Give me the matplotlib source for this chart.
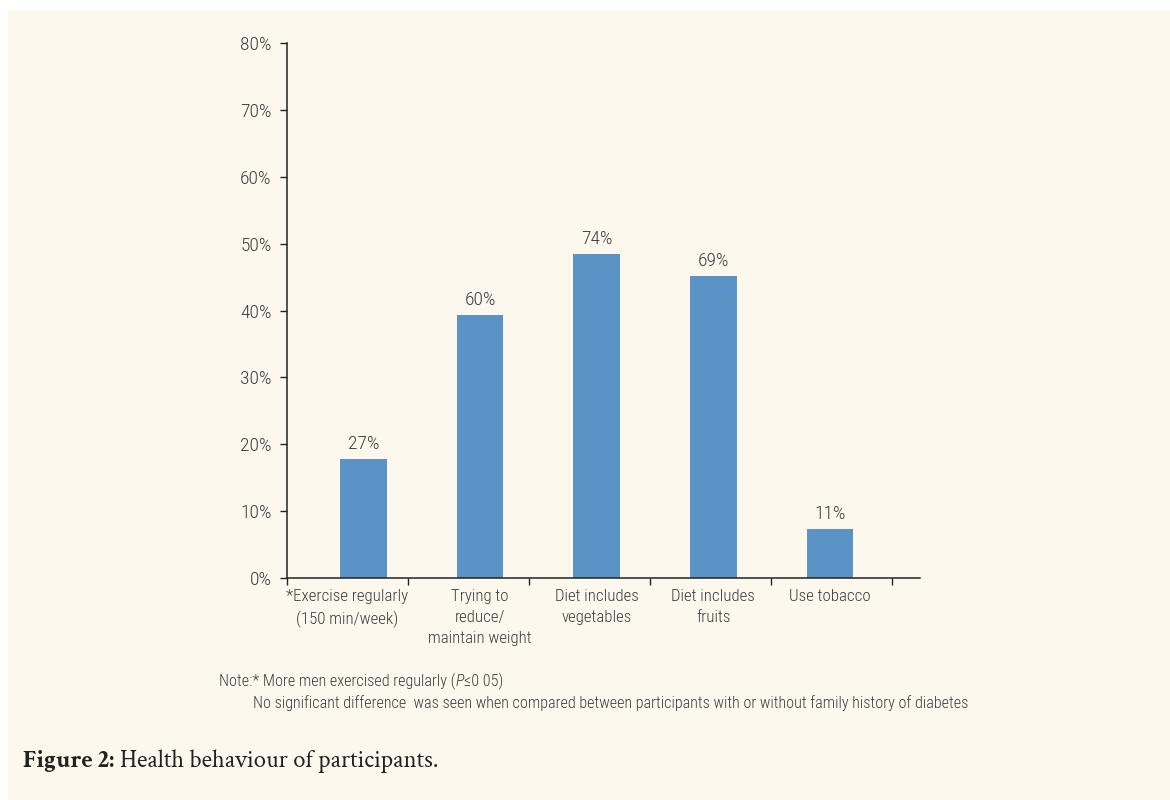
import matplotlib
matplotlib.use("Agg")
import matplotlib.pyplot as plt
import matplotlib.transforms as mtransforms
from matplotlib.patches import Rectangle
from matplotlib.ticker import FuncFormatter

# bar heights as drawn on the axis, and the labels printed above the bars
categories = ["*Exercise regularly\n(150 min/week)", "Trying to\nreduce/\nmaintain weight",
              "Diet includes\nvegetables", "Diet includes\nfruits", "Use tobacco"]
bar_heights = [17.8, 39.3, 48.4, 45.1, 7.3]
bar_labels = ["27%", "60%", "74%", "69%", "11%"]
y_ticks = [0, 10, 20, 30, 40, 50, 60, 70, 80]

BG = "#fcf8ee"
BAR = "#5a93c5"
TXT = "#3c3c3c"
NARROW = ["Roboto Condensed", "PT Sans Narrow", "DejaVu Sans"]
SERIF = ["Crimson Text", "Liberation Serif"]

plt.rcParams["font.weight"] = "light"

fig = plt.figure(figsize=(11.7, 8.0), dpi=100)
fig.patch.set_facecolor("white")
fig.patches.append(Rectangle((8 / 1170, 0), 1, 790 / 800, transform=fig.transFigure,
                             facecolor=BG, edgecolor="none", zorder=-10))

ax = fig.add_axes([287 / 1170, 222 / 800, 633 / 1170, 535 / 800])
ax.set_facecolor("none")

x = list(range(len(categories)))
ax.bar(x, bar_heights, width=0.4, color=BAR, zorder=2)
for xi, h, lab in zip(x, bar_heights, bar_labels):
    ax.text(xi, h + 0.9, lab, ha="center", va="bottom", fontsize=14,
            color=TXT, family=NARROW, weight="light")

# slot boundaries of the category axis (slightly wider than bar spacing)
slot = 121 / 116.6
left = -76.5 / 116.6
ax.set_xlim(left, left + 633 / 116.6)
ax.set_ylim(0, 80)
ax.set_xticks([left + slot * k for k in range(6)], minor=True)
ax.set_xticks(x)
ax.set_xticklabels(categories, fontsize=12.2, color=TXT, family=NARROW,
                   weight="light", linespacing=1.5)
ax.tick_params(axis="x", which="major", length=0, pad=8)
ax.tick_params(axis="x", which="minor", length=5, width=1, color="#222222", direction="out")
first = ax.get_xticklabels()[0]
first.set_transform(first.get_transform() +
                    mtransforms.ScaledTranslation(-16 / 100, 0, fig.dpi_scale_trans))

ax.set_yticks(y_ticks)
ax.yaxis.set_major_formatter(FuncFormatter(lambda v, p: f"{v:.0f}%"))
ax.tick_params(axis="y", length=5, width=1, color="#222222", pad=6, labelsize=14,
               labelcolor=TXT)
for t in ax.get_yticklabels():
    t.set_family(NARROW)
    t.set_weight("light")

for s in ["top", "right"]:
    ax.spines[s].set_visible(False)
for s in ["left", "bottom"]:
    ax.spines[s].set_color("#222222")
    ax.spines[s].set_linewidth(1.1)

NOTE_FS = 11.6
note1 = fig.text(219 / 1170, 1 - 681 / 800, "Note:* More men exercised regularly (",
                 fontsize=NOTE_FS, color=TXT, family=NARROW, weight="light", va="center")
fig.canvas.draw()
r = fig.canvas.get_renderer()
bb = note1.get_window_extent(r)
pt = fig.text(bb.x1 / 1170, 1 - 681 / 800, "P", fontsize=NOTE_FS, color=TXT, family=NARROW,
              weight="light", style="italic", va="center")
bb2 = pt.get_window_extent(r)
fig.text(bb2.x1 / 1170, 1 - 681 / 800, "\u22640 05)", fontsize=NOTE_FS, color=TXT,
         family=NARROW, weight="light", va="center")
fig.text(253 / 1170, 1 - 703 / 800,
         "No significant difference  was seen when compared between participants with or without family history of diabetes",
         fontsize=NOTE_FS, color=TXT, family=NARROW, weight="light", va="center")

cap = fig.text(23 / 1170, 1 - 761 / 800, "Figure 2:", fontsize=17.8, fontweight="bold",
               family=SERIF, color="#222222", va="center")
bb3 = cap.get_window_extent(r)
fig.text((bb3.x1 + 6) / 1170, 1 - 761 / 800, "Health behaviour of participants.",
         fontsize=17.8, weight="normal", family=SERIF, color="#222222", va="center")

fig.savefig("out.png", dpi=100, facecolor=fig.get_facecolor())
plt.close(fig)
